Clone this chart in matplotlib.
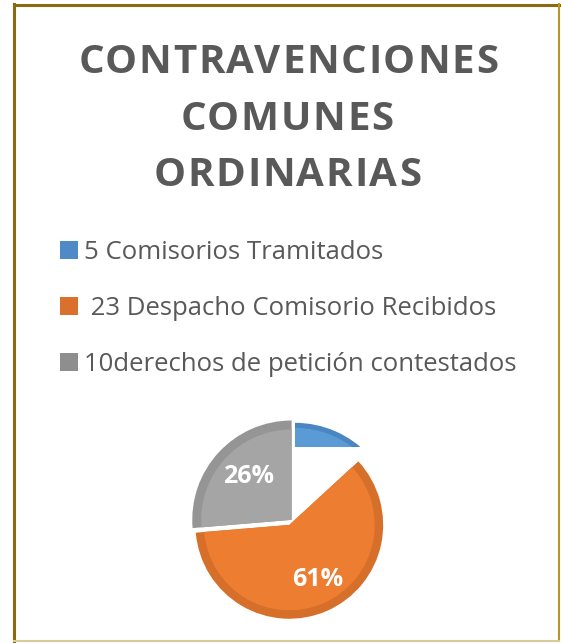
import matplotlib
matplotlib.use("Agg")
import matplotlib.pyplot as plt
from matplotlib.patches import Rectangle
from matplotlib.lines import Line2D

title_lines = ["CONTRAVENCIONES", "COMUNES", "ORDINARIAS"]
labels = ["5 Comisorios Tramitados", " 23 Despacho Comisorio Recibidos", "10derechos de petición contestados"]
values = [5, 23, 10]
fill_colors = ["#5B9BD5", "#ED7D31", "#A5A5A5"]
edge_colors = ["#4A86C2", "#D56F2A", "#959595"]
legend_colors = ["#4F8AC6", "#D9702C", "#8E8E8E"]

W, H = 561, 643
fig = plt.figure(figsize=(W / 100, H / 100), dpi=100)
fig.patch.set_facecolor("white")
renderer = fig.canvas.get_renderer()

# border
fig.add_artist(Line2D([14 / W, 14 / W], [1 - 4 / H, 1 - 641 / H], color="#8A6A10", lw=2.2, transform=fig.transFigure))
fig.add_artist(Line2D([14 / W, 559 / W], [1 - 4.5 / H, 1 - 4.5 / H], color="#8A6A10", lw=2.2, transform=fig.transFigure))
fig.add_artist(Line2D([559 / W, 559 / W], [1 - 4 / H, 1 - 641 / H], color="#B8952A", lw=1.5, transform=fig.transFigure))
fig.add_artist(Line2D([14 / W, 559 / W], [1 - 641 / H, 1 - 641 / H], color="#D8CB98", lw=1.5, transform=fig.transFigure))

# title with letter spacing
tprops = dict(fontsize=29, fontweight="bold", family="Open Sans", color="#595959")
spacing = 1.7
def width_px(s):
    t = fig.text(0, 0, s, **tprops)
    w = t.get_window_extent(renderer).width
    t.remove()
    return w

title_baseline = [73, 130, 186]
title_center = [288, 287, 287]
for line, yb, xc in zip(title_lines, title_baseline, title_center):
    total_w = width_px(line) + spacing * (len(line) - 1)
    x0 = xc - total_w / 2
    for i, ch in enumerate(line):
        xr = x0 + width_px(line[:i + 1]) + spacing * i
        fig.text(xr / W, 1 - yb / H, ch, ha="right", va="baseline", **tprops)

# pie
cx, cy, r = 293, 524, 92
half = 130
ax = fig.add_axes([(cx - half) / W, 1 - (cy + half) / H, 2 * half / W, 2 * half / H])

def pct(p):
    return "" if p < 15 else f"{p:.0f}%"

outer, _ = ax.pie(values, colors=edge_colors, startangle=90, counterclock=False,
                  radius=1.0, wedgeprops=dict(linewidth=0), frame=True)
inner, texts, autotexts = ax.pie(values, colors=fill_colors, startangle=90, counterclock=False,
                                 radius=0.91, wedgeprops=dict(linewidth=0), autopct=pct,
                                 pctdistance=0.72, frame=True,
                                 textprops=dict(color="white", fontsize=18, fontweight="bold",
                                                family="Open Sans"))
# orange slightly shifted left, gray a bit larger and lifted, blue slice only its top part
for w in (outer[1], inner[1]):
    w.set_center((-0.04, -0.01))
    w.set_radius(w.r * 1.02)
for w in (outer[2], inner[2]):
    w.set_radius(w.r * 1.08)
    w.set_center((-0.015, 0.045))
for w in (outer[0], inner[0]):
    w.set_radius(w.r * 1.1)
    w.set_center((0.02, 0.0))
    clip = Rectangle((0.02, 0.84), 2, 1, transform=ax.transData)
    w.set_clip_on(True)
    w.set_clip_path(clip)
inner[0].set_radius(1.1 * 0.95)
gx, gy = autotexts[2].get_position()
autotexts[2].set_position((gx, gy + 0.07))

ax.set_xlim(-half / r, half / r)
ax.set_ylim(-half / r, half / r)
ax.axis("off")

# legend
leg_base = [259, 315, 371]
for lab, col, yb in zip(labels, legend_colors, leg_base):
    fig.add_artist(Rectangle((60 / W, 1 - (yb + 0) / H), 18 / W, 18 / H,
                             facecolor=col, edgecolor="none", transform=fig.transFigure))
    fig.text(84 / W, 1 - yb / H, lab, ha="left", va="baseline", fontsize=18.5,
             family="Open Sans", color="#595959")

fig.savefig("out.png", dpi=100)
